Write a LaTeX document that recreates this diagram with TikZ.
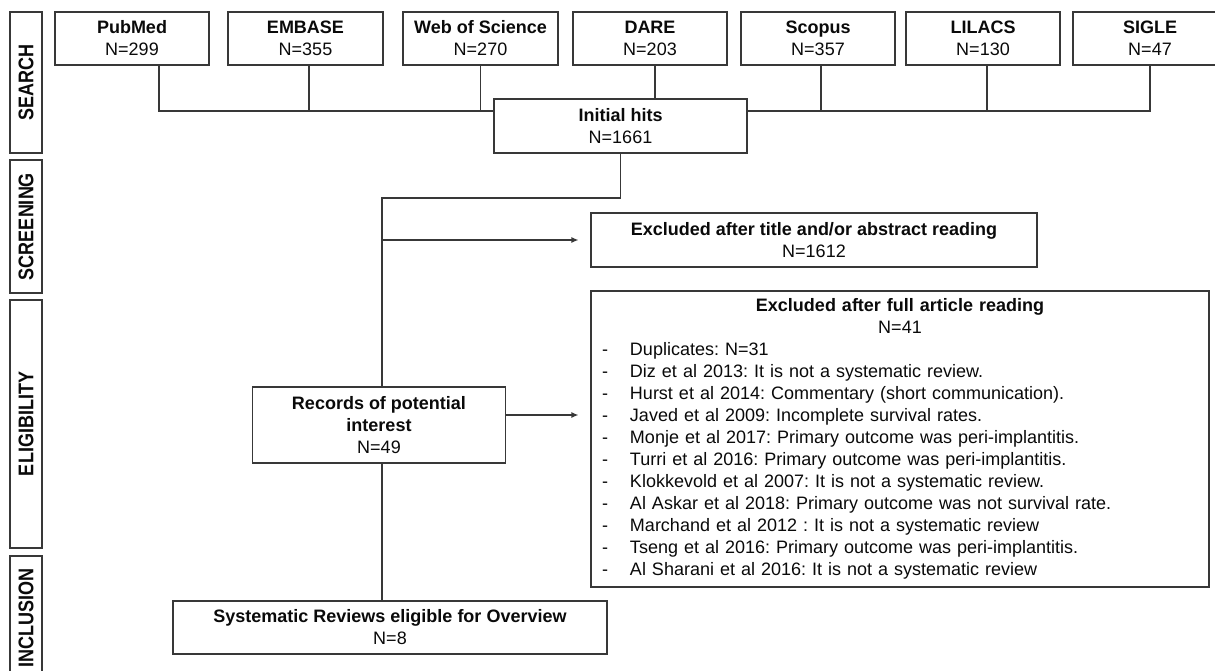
\documentclass[tikz,border=0pt]{standalone}
\usepackage{fontspec}
\setmainfont{Liberation Sans}
\usetikzlibrary{arrows.meta}
\definecolor{ln}{HTML}{383838}
\definecolor{tx}{HTML}{0A0A0A}
\frenchspacing
\begin{document}
\begin{tikzpicture}[x=1pt,y=-1pt,
  every node/.style={text=tx},
  box/.style={draw=ln, line width=1.2pt, inner sep=0pt, align=center, font=\fontsize{18}{22}\selectfont\frenchspacing},
  phase/.style={draw=ln, line width=1.2pt, inner sep=0pt, font=\bfseries\fontsize{18}{22}\selectfont, rotate=90},
  conn/.style={draw=ln, line width=1.2pt},
  arr/.style={conn, -{Latex[length=7pt,width=6pt]}, shorten >=12pt}]
\useasboundingbox (0,0) rectangle (1215,671);
\fill[white] (0,0) rectangle (1215,671);

% phase labels
\node[phase, minimum width=141pt, minimum height=32pt] (search) at (26,82.5) {\scalebox{1}[1.18]{SEARCH}};
\node[phase, minimum width=133pt, minimum height=32pt] (screening) at (26,226.5) {\scalebox{1}[1.18]{SCREENING}};
\node[phase, minimum width=248pt, minimum height=32pt] (eligibility) at (26,424) {\scalebox{1}[1.18]{ELIGIBILITY}};
\node[phase, minimum width=124pt, minimum height=32pt] (inclusion) at (26,618) {\scalebox{1}[1.18]{INCLUSION}};

% databases
\node[box, minimum width=154pt, minimum height=53pt] (pubmed) at (132,38.5) {\textbf{PubMed}\\N=299};
\node[box, minimum width=155pt, minimum height=53pt] (embase) at (305.5,38.5) {\textbf{EMBASE}\\N=355};
\node[box, minimum width=155pt, minimum height=53pt] (wos) at (480.5,38.5) {\textbf{Web of Science}\\N=270};
\node[box, minimum width=154pt, minimum height=53pt] (dare) at (650,38.5) {\textbf{DARE}\\N=203};
\node[box, minimum width=154pt, minimum height=53pt] (scopus) at (818,38.5) {\textbf{Scopus}\\N=357};
\node[box, minimum width=154pt, minimum height=53pt] (lilacs) at (983,38.5) {\textbf{LILACS}\\N=130};
\node[box, minimum width=154pt, minimum height=53pt] (sigle) at (1150,38.5) {\textbf{SIGLE}\\N=47};

\node[box, minimum width=253pt, minimum height=54pt] (init) at (620.5,126) {\textbf{Initial hits}\\N=1661};

\node[box, minimum width=446pt, minimum height=54pt] (excl1) at (814,240) {\textbf{Excluded after title and/or abstract reading}\\N=1612};

\node[box, minimum width=252.5pt, minimum height=76pt] (records) at (379,425) {\textbf{Records of potential}\\\textbf{interest}\\N=49};

\node[box, minimum width=618pt, minimum height=296pt, text width=596pt, inner xsep=11pt, align=left] (excl2) at (900,439) {%
\makebox[596pt][c]{\bfseries Excluded after full article reading}\\
\makebox[596pt][c]{N=41}\\
\makebox[28pt][l]{-}Duplicates: N=31\\
\makebox[28pt][l]{-}Diz et al 2013: It is not a systematic review.\\
\makebox[28pt][l]{-}Hurst et al 2014: Commentary (short communication).\\
\makebox[28pt][l]{-}Javed et al 2009: Incomplete survival rates.\\
\makebox[28pt][l]{-}Monje et al 2017: Primary outcome was peri-implantitis.\\
\makebox[28pt][l]{-}Turri et al 2016: Primary outcome was peri-implantitis.\\
\makebox[28pt][l]{-}Klokkevold et al 2007: It is not a systematic review.\\
\makebox[28pt][l]{-}Al Askar et al 2018: Primary outcome was not survival rate.\\
\makebox[28pt][l]{-}Marchand et al 2012 : It is not a systematic review\\
\makebox[28pt][l]{-}Tseng et al 2016: Primary outcome was peri-implantitis.\\
\makebox[28pt][l]{-}Al Sharani et al 2016: It is not a systematic review};

\node[box, minimum width=434pt, minimum height=53pt] (final) at (390,627.5) {\textbf{Systematic Reviews eligible for Overview}\\N=8};

% connectors
\draw[conn] ([xshift=27pt]pubmed.south) |- ([yshift=15pt]init.west);
\draw[conn] ([xshift=3.5pt]embase.south) |- ([yshift=15pt]init.west);
\draw[conn] (wos.south) |- ([yshift=15pt]init.west);
\draw[conn] ([xshift=5pt]dare.south) -- ([xshift=5pt]dare.south |- init.north);
\draw[conn] ([xshift=3pt]scopus.south) |- ([yshift=15pt]init.east);
\draw[conn] ([xshift=4pt]lilacs.south) |- ([yshift=15pt]init.east);
\draw[conn] (sigle.south) |- ([yshift=15pt]init.east);

\coordinate (j1) at (382,198);
\draw[conn] (init.south) |- (j1) -- ([xshift=3pt]records.north);
\draw[arr] (j1 |- excl1.west) -- (excl1.west);
\draw[arr] ([yshift=10pt]records.east) -- ([yshift=10pt]records.east -| excl2.west);
\draw[conn] ([xshift=3pt]records.south) -- ([xshift=3pt]records.south |- final.north);
\end{tikzpicture}
\end{document}
